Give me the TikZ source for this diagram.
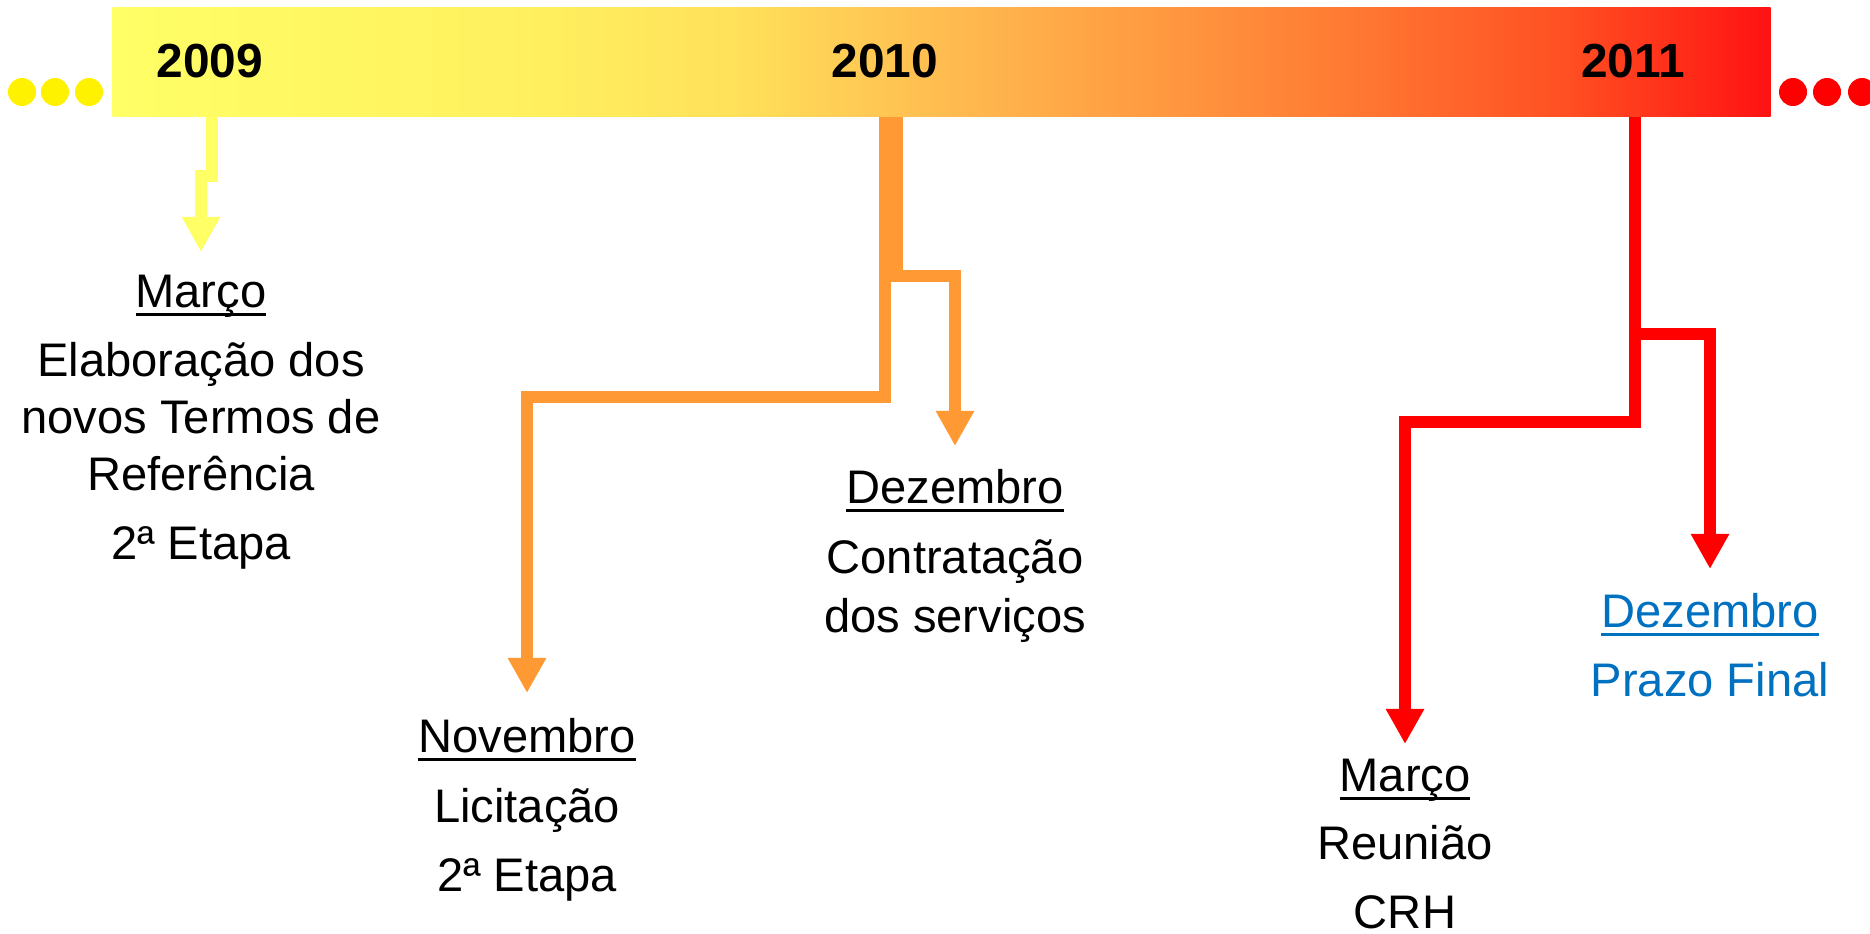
\documentclass[tikz,border=0pt]{standalone}
\usepackage{fontspec}
\setmainfont{Liberation Sans}
\usetikzlibrary{arrows.meta}
\usetikzlibrary{calc,shapes}

\definecolor{amarelo}{RGB}{255,255,102}
\definecolor{faixa1}{RGB}{255,240,95}
\definecolor{faixa2}{RGB}{255,225,90}
\definecolor{faixa3}{RGB}{255,188,80}
\definecolor{faixa4}{RGB}{255,155,65}
\definecolor{faixa5}{RGB}{255,120,50}
\definecolor{faixa6}{RGB}{255,80,35}
\definecolor{barrafim}{RGB}{255,18,18}
\definecolor{laranja}{RGB}{255,153,51}
\definecolor{vermelho}{RGB}{255,0,0}
\definecolor{azul}{RGB}{0,112,192}

\pgfdeclarehorizontalshading{faixa}{100bp}{color(0bp)=(amarelo); color(25bp)=(amarelo);
	color(37.5bp)=(faixa1); color(43.75bp)=(faixa2); color(50bp)=(faixa3); color(56.25bp)=(faixa4);
	color(62.5bp)=(faixa5); color(68.75bp)=(faixa6); color(75bp)=(barrafim); color(100bp)=(barrafim)}

\newcommand{\mes}[1]{\setbox0\hbox{#1}\rlap{\rule[-2.4pt]{\wd0}{0.85pt}}\box0}

\begin{document}
\begin{tikzpicture}[x=0.01cm,y=-0.01cm,
	seta/.style={line width=0.12cm,-{Triangle[width=0.36cm,length=0.35cm]}},
	texto/.style={align=center,anchor=north,inner sep=0pt,font=\fontsize{13.4}{16.2}\selectfont},
	ano/.style={anchor=base,inner sep=0pt,font=\fontsize{13.6}{16}\selectfont\bfseries},
	ponto/.style={circle,inner sep=0pt,minimum size=0.28cm}]
				\useasboundingbox (0,0) rectangle (1870,933);
				% Barre des années
				\node (barra) [rectangle,inner sep=0pt,minimum width=16.57cm,minimum height=1.08cm,shading=faixa] at (941.5,62) {};
				\node (a2009) [ano] at (210,77) {2009};
				\node (a2010) [ano] at (885,77) {2010};
				\node (a2011) [ano] at (1633,77) {2011};
				\foreach \x [count=\i] in {22,55,89} \node (pe\i) [ponto,fill=yellow] at (\x,92) {};
				\foreach \x [count=\i] in {1793,1827,1862} \node (pd\i) [ponto,fill=red] at (\x,92) {};
				% Textes
				\node (t09) [texto] at (201,274) {\mes{Março}\\[3.5pt]Elaboração dos\\novos Termos de\\Referência\\[3.5pt]2ª Etapa};
				\node (t10a) [texto] at (527,718) {\mes{Novembro}\\[3.5pt]Licitação\\[3.5pt]2ª Etapa};
				\node (t10b) [texto] at (955,469) {\mes{Dezembro}\\[3.5pt]Contratação\\[0.8pt]dos serviços};
				\node (t11a) [texto] at (1405,758) {\mes{Março}\\[3.3pt]Reunião\\[3.3pt]CRH};
				\node (t11b) [texto,text=azul] at (1710,593) {\mes{Dezembro}\\[3.3pt]Prazo Final};
				\coordinate (s09) at ([yshift=0.22cm]t09.north);
				\coordinate (s10a) at ([yshift=0.25cm]t10a.north);
				\coordinate (s10b) at ([yshift=0.23cm]t10b.north);
				\coordinate (s11a) at ([yshift=0.14cm]t11a.north);
				\coordinate (s11b) at ([yshift=0.24cm]t11b.north);
				% Flèches
				\draw [seta,amarelo] ([xshift=0.02cm]barra.south -| a2009) -- ++(0,59) -| (s09);
				\draw [seta,laranja] (barra.south -| a2010) -- ++(0,280) -| (s10a);
				\draw [seta,laranja] ([xshift=0.12cm]barra.south -| a2010) -- ++(0,159) -| (s10b);
				\draw [seta,vermelho] ([xshift=0.02cm]barra.south -| a2011) -- ++(0,217) -| (s11b);
				\draw [seta,vermelho] ([xshift=0.02cm]barra.south -| a2011) -- ++(0,305) -| (s11a);
\end{tikzpicture}
\end{document}
